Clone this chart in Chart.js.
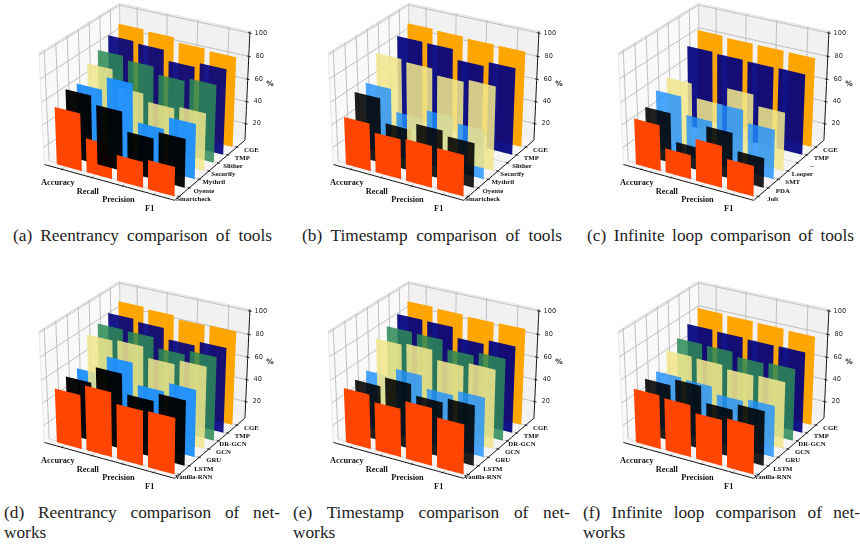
<!DOCTYPE html>
<html>
<head>
<meta charset="utf-8">
<script src="https://cdn.jsdelivr.net/npm/chart.js@4"></script>
<style>
  html, body { margin: 0; padding: 0; background: #fff; width: 860px; height: 544px; overflow: hidden; }
  canvas { position: absolute; display: block; }
  .cap { position: absolute; font: 17.3px/20px "Liberation Serif", serif; color: #222; }
  .cap .fit { text-align: justify; text-align-last: justify; white-space: normal; }
</style>
</head>
<body>
<script>
const metrics = ["Accuracy", "Recall", "Precision", "F1"];
const toolNames = ["Smartcheck", "Oyente", "Mythril", "Securify", "Slither", "TMP", "CGE"];
const loopToolNames = ["Jolt", "PDA", "SMT", "Looper", "--", "TMP", "CGE"];
const networkNames = ["Vanilla-RNN", "LSTM", "GRU", "GCN", "DR-GCN", "TMP", "CGE"];
const zTicks = [20, 40, 60, 80, 100];
const barColors = ["255,69,0", "0,0,0", "30,144,255", "240,230,140", "46,139,87", "0,0,128", "255,165,0"];
const solidAlphas = [1, 0.96, 0.96, 0.85, 0.85, 0.9, 1];
const paleAlphas = [1, 0.88, 0.8, 0.88, 0.85, 0.92, 1];

// one row per system on the depth axis, one value per metric
const reentrancyTools = [
  [55.7, 35.2, 27.7, 30.6],
  [64.5, 57.4, 41.0, 47.5],
  [63.0, 74.8, 42.1, 53.4],
  [74.4, 59.8, 53.3, 55.6],
  [79.9, 76.8, 70.6, 73.5],
  [86.8, 85.2, 76.4, 80.6],
  [91.1, 90.0, 86.2, 84.8]
];
const timestampTools = [
  [47.1, 40.2, 41.6, 40.9],
  [62.2, 41.4, 47.8, 43.9],
  [63.7, 44.5, 52.7, 47.8],
  [83.3, 81.4, 76.4, 78.8],
  [null, null, null, null],
  [86.1, 85.8, 77.3, 81.5],
  [91.4, 90.6, 89.5, 89.4]
];
const loopTools = [
  [45.6, 26.3, 41.6, 31.5],
  [49.1, 24.8, 45.7, 30.9],
  [57.2, 41.9, 58.7, 48.4],
  [62.0, 50.0, 65.4, 56.2],
  [null, null, null, null],
  [77.3, 76.4, 75.9, 76.2],
  [85.5, 84.4, 84.2, 83.8]
];
const reentrancyNetworks = [
  [52.8, 61.9, 52.9, 53.7],
  [56.5, 71.0, 54.3, 61.7],
  [57.2, 73.9, 55.7, 63.8],
  [80.3, 81.4, 72.5, 76.7],
  [83.7, 83.0, 74.4, 78.5],
  [87.0, 85.0, 75.9, 80.0],
  [91.4, 90.0, 87.2, 88.0]
];
const timestampNetworks = [
  [53.2, 47.6, 55.2, 48.3],
  [53.6, 62.2, 53.1, 57.3],
  [55.1, 62.9, 52.4, 57.0],
  [76.8, 78.5, 70.8, 74.3],
  [81.4, 81.0, 73.5, 77.0],
  [86.1, 85.8, 77.3, 81.2],
  [91.4, 90.6, 89.5, 90.0]
];
const loopNetworks = [
  [52.5, 50.9, 44.9, 47.5],
  [54.5, 60.4, 46.9, 52.5],
  [54.5, 53.4, 47.4, 49.9],
  [66.4, 65.7, 62.8, 63.6],
  [71.0, 70.6, 67.0, 68.1],
  [77.3, 76.7, 75.9, 76.2],
  [85.5, 84.7, 84.2, 83.5]
];

// axis limits of the 3d box, in data units
const xLim = [-0.304, 3.951];
const yLim = [-0.3375, 7.0];
const zLim = [4.7, 101.5];
const barWidth = 0.84;
const xTickShift = 0.29;
const yTickShift = 0.1;

// camera, same as mplot3d defaults
const elev = 30 * Math.PI / 180;
const azim = -60 * Math.PI / 180;
const dist = 10;
const right = [-Math.sin(azim), Math.cos(azim), 0];
const up = [-Math.sin(elev) * Math.cos(azim), -Math.sin(elev) * Math.sin(azim), Math.cos(elev)];
const toward = [Math.cos(elev) * Math.cos(azim), Math.cos(elev) * Math.sin(azim), Math.sin(elev)];

const scaleX = 1505;
const scaleY = 1270;
const originX = 146.2;
const originY = 98.5;

function dot(a, b) {
  return a[0] * b[0] + a[1] * b[1] + a[2] * b[2];
}

function toBox(x, y, z) {
  return [
    (x - xLim[0]) / (xLim[1] - xLim[0]) - 0.5,
    (y - yLim[0]) / (yLim[1] - yLim[0]) - 0.5,
    (z - zLim[0]) / (zLim[1] - zLim[0]) - 0.5
  ];
}

function project(x, y, z) {
  const d = toBox(x, y, z);
  const f = dist - dot(d, toward);
  return { x: dot(d, right) / f, y: dot(d, up) / f };
}

function polygon(points, color) {
  return {
    data: points,
    showLine: true,
    fill: "shape",
    backgroundColor: color,
    borderWidth: 0,
    pointRadius: 0,
    tension: 0.0001,
    clip: false
  };
}

function line(a, b, color, width) {
  return {
    data: [a, b],
    showLine: true,
    fill: false,
    borderColor: color,
    borderWidth: width,
    pointRadius: 0,
    tension: 0.0001,
    clip: false
  };
}

function boxDatasets() {
  const [x0, x1] = xLim;
  const [y0, y1] = yLim;
  const [z0, z1] = zLim;
  const grid = "#b8b8b8";
  const floorGrid = "#d0d0d0";
  const sets = [
    polygon([project(x0, y0, z1), project(x0, y0, z0), project(x0, y1, z0), project(x0, y1, z1)], "#f9f9f9"),
    polygon([project(x0, y1, z1), project(x0, y1, z0), project(x1, y1, z0), project(x1, y1, z1)], "#f1f1f1"),
    polygon([project(x0, y0, z0), project(x0, y1, z0), project(x1, y1, z0), project(x1, y0, z0)], "#f5f5f5"),
    line(project(x0, y0, z1), project(x0, y1, z1), "#d4d4d4", 1),
    line(project(x0, y1, z1), project(x1, y1, z1), "#e2e2e2", 1),
    line(project(x0, y0, z0), project(x0, y0, z1), "#e8e8e8", 1),
    line(project(x0, y1, z0), project(x0, y1, z1), "#c8c8c8", 1)
  ];

  metrics.forEach((name, i) => {
    const x = i + xTickShift;
    sets.push(line(project(x, y1, z0), project(x, y1, z1), grid, 0.9));
    sets.push(line(project(x, y0, z0), project(x, y1, z0), floorGrid, 0.8));
  });
  for (let j = 0; j < 7; j++) {
    const y = j + yTickShift;
    sets.push(line(project(x0, y, z0), project(x0, y, z1), grid, 0.9));
    sets.push(line(project(x0, y, z0), project(x1, y, z0), floorGrid, 0.8));
  }
  zTicks.forEach((z) => {
    sets.push(line(project(x0, y0, z), project(x0, y1, z), grid, 0.9));
    sets.push(line(project(x0, y1, z), project(x1, y1, z), grid, 0.9));
  });

  sets.push(line(project(x0, y0, z0), project(x1, y0, z0), "#111", 1));
  sets.push(line(project(x1, y0, z0), project(x1, y1, z0), "#111", 1));
  sets.push(line(project(x1, y1, z0), project(x1, y1, z1), "#111", 1));

  metrics.forEach((name, i) => {
    const x = i + xTickShift;
    sets.push(line(project(x, y0 - 0.08, z0), project(x, y0 + 0.08, z0), "#111", 0.9));
  });
  for (let j = 0; j < 7; j++) {
    const y = j + yTickShift;
    sets.push(line(project(x1 - 0.05, y, z0), project(x1 + 0.05, y, z0), "#111", 0.9));
  }
  zTicks.forEach((z) => {
    sets.push(line(project(x1 - 0.06, y1, z), project(x1 + 0.06, y1, z), "#111", 0.9));
  });
  return sets;
}

// depth sort like mplot3d: a bar is ranked by its nearest corner,
// so a tall bar can end up painted over a shorter one in front of it
function barDatasets(rows, alphas) {
  const bars = [];
  rows.forEach((row, j) => {
    row.forEach((value, i) => {
      if (value === null) return;
      const left = i;
      const rightEdge = i + barWidth;
      const points = [
        project(left, j, value),
        project(left, j, zLim[0]),
        project(rightEdge, j, zLim[0]),
        project(rightEdge, j, value)
      ];
      bars.push({
        depth: dot(toBox(rightEdge, j, value), toward),
        set: polygon(points, `rgba(${barColors[j]},${alphas[j]})`)
      });
    });
  });
  bars.sort((a, b) => a.depth - b.depth);
  return bars.map((b) => b.set);
}

const axisText = {
  id: "axisText",
  afterDraw(chart) {
    const { ctx, scales } = chart;
    ctx.save();
    ctx.textAlign = "center";
    ctx.textBaseline = "middle";
    chart.options.plugins.axisText.items.forEach((item) => {
      ctx.font = item.font;
      ctx.fillStyle = item.color;
      ctx.fillText(
        item.text,
        scales.x.getPixelForValue(item.at.x) + item.dx,
        scales.y.getPixelForValue(item.at.y) + item.dy
      );
    });
    ctx.restore();
  }
};

function textItems(depthNames) {
  const serifBold = 'bold 8.3px "Liberation Serif"';
  const serifSmall = 'bold 6.8px "Liberation Serif"';
  const items = [];
  metrics.forEach((text, i) => {
    items.push({ text, at: project(i + xTickShift, yLim[0], zLim[0]), dx: -4, dy: 14, font: serifBold, color: "#111" });
  });
  depthNames.forEach((text, j) => {
    items.push({ text, at: project(xLim[1], j + yTickShift, zLim[0]), dx: 14.5, dy: 3, font: serifSmall, color: "#111" });
  });
  zTicks.forEach((z) => {
    items.push({ text: String(z), at: project(xLim[1], yLim[1], z), dx: 11, dy: 0, font: '6.6px "DejaVu Sans"', color: "#262626" });
  });
  items.push({ text: "%", at: project(xLim[1], yLim[1], 56), dx: 22.5, dy: 0, font: 'bold 7.4px "DejaVu Sans"', color: "#222" });
  return items;
}

function drawPanel(left, top, width, height, rows, depthNames, alphas) {
  const canvas = document.createElement("canvas");
  canvas.width = width;
  canvas.height = height;
  canvas.style.left = left + "px";
  canvas.style.top = top + "px";
  document.body.appendChild(canvas);

  // datasets are painted last to first, so hand them over reversed
  const datasets = boxDatasets().concat(barDatasets(rows, alphas)).reverse();

  new Chart(canvas, {
    type: "scatter",
    data: { datasets },
    plugins: [axisText],
    options: {
      responsive: false,
      animation: false,
      events: [],
      layout: { padding: 0 },
      plugins: {
        legend: { display: false },
        tooltip: { enabled: false },
        axisText: { items: textItems(depthNames) }
      },
      scales: {
        x: { type: "linear", display: false, min: -originX / scaleX, max: (width - originX) / scaleX },
        y: { type: "linear", display: false, min: (originY - height) / scaleY, max: originY / scaleY }
      }
    }
  });
}

function addCaption(left, top, width, first, second) {
  const box = document.createElement("div");
  box.className = "cap";
  box.style.left = left + "px";
  box.style.top = top + "px";
  box.style.width = width + "px";
  const fit = document.createElement("div");
  fit.className = "fit";
  fit.textContent = first;
  box.appendChild(fit);
  if (second) {
    const rest = document.createElement("div");
    rest.textContent = second;
    box.appendChild(rest);
  }
  document.body.appendChild(box);
}

drawPanel(0, 0, 285, 225, reentrancyTools, toolNames, solidAlphas);
drawPanel(289, 0, 285, 225, timestampTools, toolNames, paleAlphas);
drawPanel(579, 0, 281, 225, loopTools, loopToolNames, paleAlphas);
drawPanel(0, 278, 285, 225, reentrancyNetworks, networkNames, solidAlphas);
drawPanel(289, 278, 285, 225, timestampNetworks, networkNames, paleAlphas);
drawPanel(579, 278, 281, 225, loopNetworks, networkNames, paleAlphas);

addCaption(13, 226, 259, "(a) Reentrancy comparison of tools");
addCaption(302, 226, 260, "(b) Timestamp comparison of tools");
addCaption(587, 226, 267, "(c) Infinite loop comparison of tools");
addCaption(4, 503, 276, "(d) Reentrancy comparison of net-", "works");
addCaption(293, 503, 277, "(e) Timestamp comparison of net-", "works");
addCaption(583, 503, 277, "(f) Infinite loop comparison of net-", "works");
</script>
</body>
</html>
